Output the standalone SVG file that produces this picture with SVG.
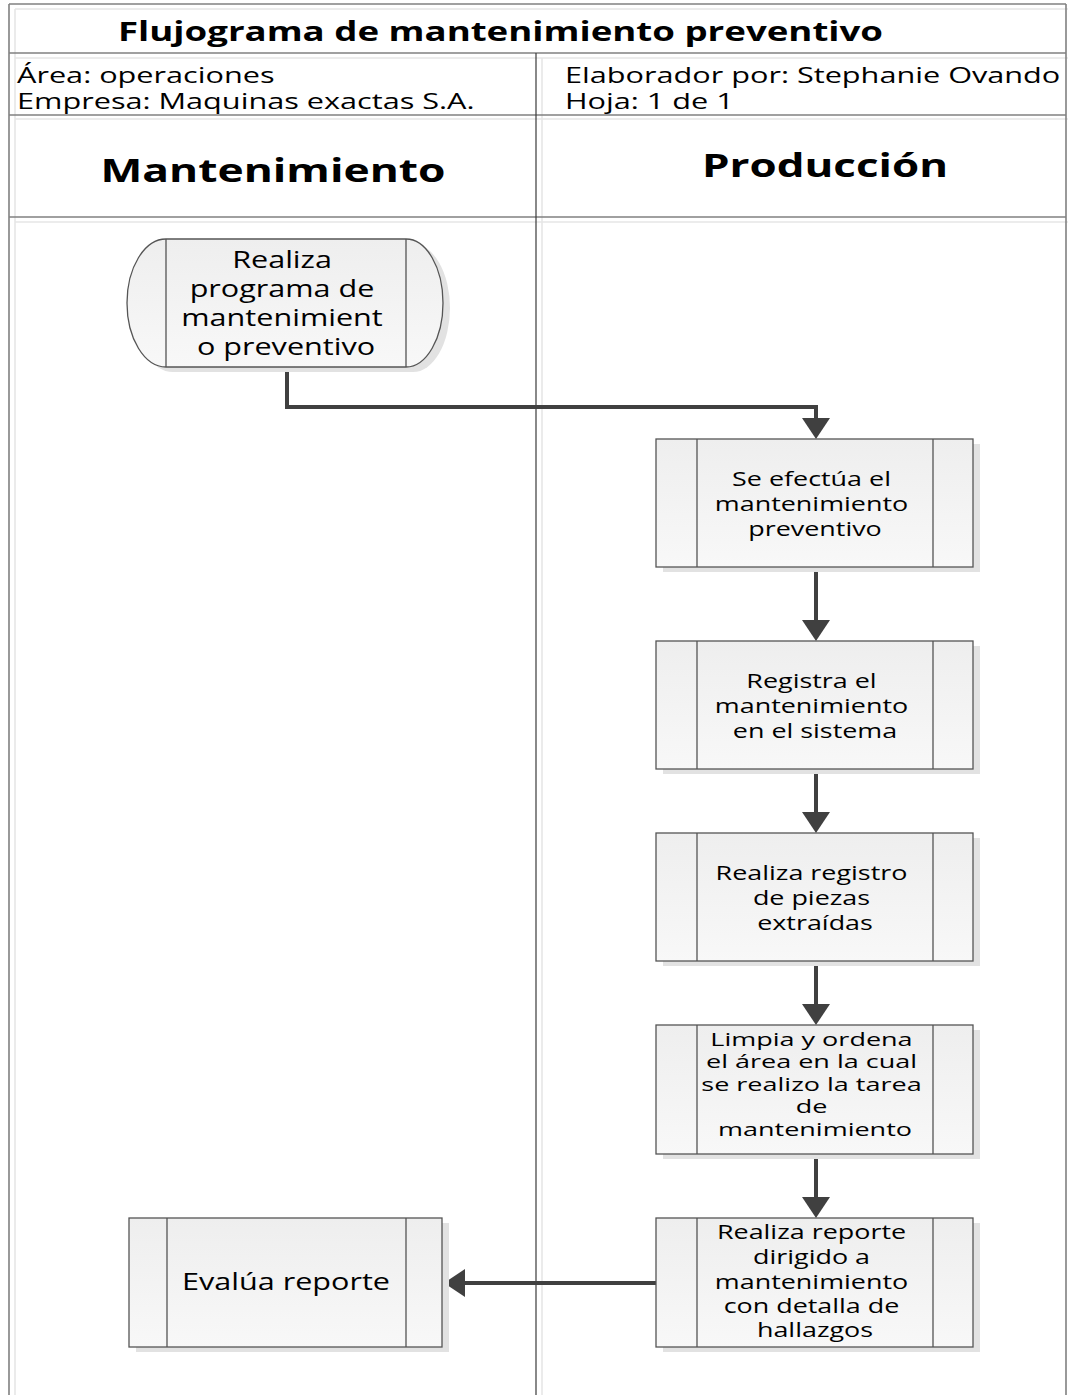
<svg xmlns="http://www.w3.org/2000/svg" width="1068" height="1395" viewBox="0 0 1068 1395">
  <style>
    .frame { fill: none; stroke: #808080; stroke-width: 1.6; }
    .frame-shadow { fill: none; stroke: #e6e6e6; stroke-width: 1.6; }
    .lane { fill: none; stroke: #3a3a3a; stroke-width: 1.2; }
    .box { fill: url(#boxFill); stroke: #555; stroke-width: 1.3; }
    .bar { fill: none; stroke: #555; stroke-width: 1.3; }
    .shadow { fill: #e2e2e2; stroke: none; }
    .conn { fill: none; stroke: #404040; stroke-width: 4; }
    text { font-family: "Open Sans", "Liberation Sans", sans-serif; fill: #000; }
    .hdr { font-size: 21px; }
    .title { font-size: 26px; font-weight: bold; }
    .lanehdr { font-size: 32px; font-weight: bold; text-anchor: middle; }
    .lbl { font-size: 19.5px; text-anchor: middle; }
    .lbl-s { font-size: 18px; text-anchor: middle; }
    .lbl-l { font-size: 23px; text-anchor: middle; }
  </style>
  <defs>
    <linearGradient id="boxFill" x1="0" y1="0" x2="0" y2="1">
      <stop offset="0" stop-color="#eeeeee"/>
      <stop offset="1" stop-color="#f8f8f8"/>
    </linearGradient>
    <marker id="arrow" viewBox="0 0 21 28" refX="0" refY="14" markerWidth="21" markerHeight="28" markerUnits="userSpaceOnUse" orient="auto">
      <path d="M0,0 L21,14 L0,28 Z" fill="#404040"/>
    </marker>
  </defs>

  <!-- page frame: title bar, info row, lane headers, lanes -->
  <g id="frame">
    <g class="frame-shadow">
      <path d="M15,9 H1072"/>
      <path d="M15,58 H1072"/>
      <path d="M15,119 H1072"/>
      <path d="M15,222 H1072"/>
      <path d="M15,9 V1395"/>
      <path d="M542,58 V1395"/>
    </g>
    <g class="frame">
      <path d="M9,4 H1066"/>
      <path d="M9,53 H1066"/>
      <path d="M9,115 H1066"/>
      <path d="M9,217 H1066"/>
      <path d="M9,4 V1395"/>
      <path d="M1066,4 V1395"/>
    </g>
    <path class="lane" d="M536,53 V1395"/>
    <text class="title" x="118" y="41" textLength="765" lengthAdjust="spacingAndGlyphs">Flujograma de mantenimiento preventivo</text>
    <text class="hdr" transform="translate(17 0) scale(1.46 1)" x="0" y="83">Área: operaciones</text>
    <text class="hdr" transform="translate(17 0) scale(1.46 1)" x="0" y="109">Empresa: Maquinas exactas S.A.</text>
    <text class="hdr" transform="translate(565 0) scale(1.46 1)" x="0" y="83">Elaborador por: Stephanie Ovando</text>
    <text class="hdr" transform="translate(565 0) scale(1.46 1)" x="0" y="109">Hoja: 1 de 1</text>
    <text class="lanehdr" x="273" y="182" textLength="345" lengthAdjust="spacingAndGlyphs">Mantenimiento</text>
    <text class="lanehdr" x="825" y="177" textLength="246" lengthAdjust="spacingAndGlyphs">Producción</text>
  </g>

  <!-- connectors -->
  <g id="connectors">
    <path class="conn" d="M287,367 V407 H816 V418" marker-end="url(#arrow)"/>
    <path class="conn" d="M816,567 V620" marker-end="url(#arrow)"/>
    <path class="conn" d="M816,769 V812" marker-end="url(#arrow)"/>
    <path class="conn" d="M816,961 V1004" marker-end="url(#arrow)"/>
    <path class="conn" d="M816,1154 V1197" marker-end="url(#arrow)"/>
    <path class="conn" d="M656,1283 H465" marker-end="url(#arrow)"/>
  </g>

  <!-- start: maintenance programme -->
  <g id="node-programa">
    <path class="shadow" d="M173,244 H413 A37,64 0 0 1 413,372 H173 A39,64 0 0 1 173,244 Z"/>
    <path class="box" d="M166,239 H406 A37,64 0 0 1 406,367 H166 A39,64 0 0 1 166,239 Z"/>
    <path class="bar" d="M166,239 V367 M406,239 V367"/>
    <text class="lbl-l" transform="translate(286 0) scale(1.33 1)">
      <tspan x="0" y="268">Realiza</tspan>
      <tspan x="0" y="297">programa de</tspan>
      <tspan x="0" y="326">mantenimient</tspan>
      <tspan x="0" y="355">o preventivo</tspan>
    </text>
  </g>

  <g id="node-efectua">
    <rect class="shadow" x="663" y="444" width="317" height="128"/>
    <rect class="box" x="656" y="439" width="317" height="128"/>
    <path class="bar" d="M697,439 V567 M933,439 V567"/>
    <text class="lbl" transform="translate(815 0) scale(1.38 1)">
      <tspan x="0" y="486">Se efectúa el</tspan>
      <tspan x="0" y="511">mantenimiento</tspan>
      <tspan x="0" y="536">preventivo</tspan>
    </text>
  </g>

  <g id="node-registra">
    <rect class="shadow" x="663" y="646" width="317" height="128"/>
    <rect class="box" x="656" y="641" width="317" height="128"/>
    <path class="bar" d="M697,641 V769 M933,641 V769"/>
    <text class="lbl" transform="translate(815 0) scale(1.38 1)">
      <tspan x="0" y="688">Registra el</tspan>
      <tspan x="0" y="713">mantenimiento</tspan>
      <tspan x="0" y="738">en el sistema</tspan>
    </text>
  </g>

  <g id="node-piezas">
    <rect class="shadow" x="663" y="838" width="317" height="128"/>
    <rect class="box" x="656" y="833" width="317" height="128"/>
    <path class="bar" d="M697,833 V961 M933,833 V961"/>
    <text class="lbl" transform="translate(815 0) scale(1.38 1)">
      <tspan x="0" y="880">Realiza registro</tspan>
      <tspan x="0" y="905">de piezas</tspan>
      <tspan x="0" y="930">extraídas</tspan>
    </text>
  </g>

  <g id="node-limpia">
    <rect class="shadow" x="663" y="1030" width="317" height="129"/>
    <rect class="box" x="656" y="1025" width="317" height="129"/>
    <path class="bar" d="M697,1025 V1154 M933,1025 V1154"/>
    <text class="lbl-s" transform="translate(815 0) scale(1.5 1)">
      <tspan x="0" y="1046">Limpia y ordena</tspan>
      <tspan x="0" y="1068.5">el área en la cual</tspan>
      <tspan x="0" y="1091">se realizo la tarea</tspan>
      <tspan x="0" y="1113.5">de</tspan>
      <tspan x="0" y="1136">mantenimiento</tspan>
    </text>
  </g>

  <g id="node-reporte">
    <rect class="shadow" x="663" y="1223" width="317" height="129"/>
    <rect class="box" x="656" y="1218" width="317" height="129"/>
    <path class="bar" d="M697,1218 V1347 M933,1218 V1347"/>
    <text class="lbl" transform="translate(815 0) scale(1.38 1)">
      <tspan x="0" y="1239">Realiza reporte</tspan>
      <tspan x="0" y="1264">dirigido a</tspan>
      <tspan x="0" y="1289">mantenimiento</tspan>
      <tspan x="0" y="1313">con detalla de</tspan>
      <tspan x="0" y="1337">hallazgos</tspan>
    </text>
  </g>

  <g id="node-evalua">
    <rect class="shadow" x="136" y="1223" width="313" height="129"/>
    <rect class="box" x="129" y="1218" width="313" height="129"/>
    <path class="bar" d="M167,1218 V1347 M406,1218 V1347"/>
    <text class="lbl-l" transform="translate(286 0) scale(1.33 1)" x="0" y="1290">Evalúa reporte</text>
  </g>
</svg>
